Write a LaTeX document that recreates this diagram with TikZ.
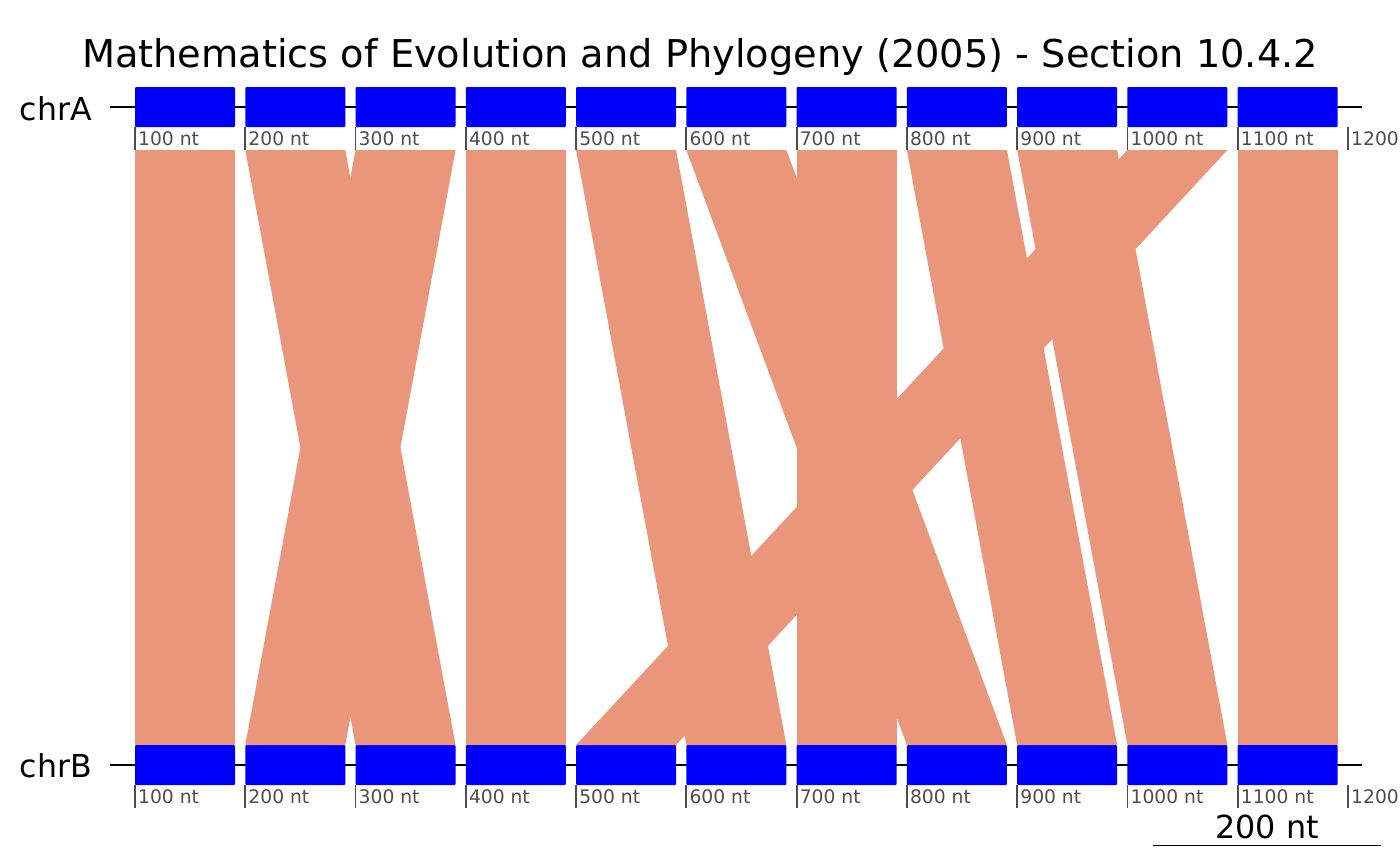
\documentclass[tikz,border=0pt]{standalone}
\usepackage{fontspec}
\setmainfont{DejaVu Sans}
\usetikzlibrary{calc}
\definecolor{ribboncol}{HTML}{E9967A}
\definecolor{tickgray}{HTML}{4D4D4D}
\begin{document}
\begin{tikzpicture}[x=1pt,y=-1pt,
  block/.style={fill=blue, draw=none, minimum width=100pt, minimum height=40pt, inner sep=0pt, outer sep=0pt, rounded corners=1pt},
  rib/.style={fill=ribboncol, draw=none},
  chrline/.style={draw=black, line width=1.6pt},
  tickline/.style={draw=tickgray, line width=1.8pt},
  ticklab/.style={text=tickgray, font=\fontsize{18.7}{18.7}\selectfont, anchor=base west, inner sep=0pt},
  chrlab/.style={font=\fontsize{31.6}{31.6}\selectfont, anchor=base east, inner sep=0pt},
  titlestyle/.style={font=\fontsize{38.3}{38.3}\selectfont, anchor=base, inner sep=0pt},
  scalelab/.style={font=\fontsize{31.8}{31.8}\selectfont, anchor=base, inner sep=0pt}]
\useasboundingbox (0,0) rectangle (1400,865);
% title
\node[titlestyle] (title) at (700,67) {Mathematics of Evolution and Phylogeny (2005) - Section 10.4.2};
% chromosome lines
\coordinate (aL) at (110,107); \coordinate (aR) at (1362,107);
\coordinate (bL) at (110,765); \coordinate (bR) at (1362,765);
\draw[chrline] (aL) -- (aR);
\draw[chrline] (bL) -- (bR);
% labels
\node[chrlab] (labA) at (92,120) {chrA};
\node[chrlab] (labB) at (92,777) {chrB};
% blocks
\foreach \i in {1,...,11} {
  \pgfmathsetmacro\xx{135+(\i-1)*110.27+50}
  \node[block] (a\i) at (\xx,107) {};
  \node[block] (b\i) at (\xx,765) {};
}
% ticks
\foreach \k [count=\j from 0] in {100,200,300,400,500,600,700,800,900,1000,1100} {
  \pgfmathsetmacro\tx{135+\j*110.27}
  \coordinate (ta\j) at (\tx,127); \coordinate (tb\j) at (\tx,150);
  \draw[tickline] (ta\j) -- (tb\j);
  \node[ticklab] (tla\j) at (\tx+3,145) {\k\ nt};
  \coordinate (tc\j) at (\tx,785); \coordinate (td\j) at (\tx,808);
  \draw[tickline] (tc\j) -- (td\j);
  \node[ticklab] (tlb\j) at (\tx+3,803) {\k\ nt};
}
\coordinate (ta11) at (1348,127); \coordinate (tb11) at (1348,150);
\draw[tickline] (ta11) -- (tb11);
\node[ticklab] (tla11) at (1351,145) {1200};
\coordinate (tc11) at (1348,785); \coordinate (td11) at (1348,808);
\draw[tickline] (tc11) -- (td11);
\node[ticklab] (tlb11) at (1351,803) {1200};
% ribbons
\coordinate (rt) at (0,150);
\newcommand\ribbon[2]{%
  \fill[rib] (a#1.south west |- rt) -- (a#1.south east |- rt) -- (b#2.north east) -- (b#2.north west) -- cycle;}
\ribbon{1}{1}
\ribbon{2}{3}
\ribbon{3}{2}
\ribbon{4}{4}
\ribbon{5}{6}
\ribbon{6}{8}
\ribbon{7}{7}
\ribbon{8}{9}
\ribbon{9}{10}
\ribbon{10}{5}
\ribbon{11}{11}
% scale bar
\coordinate (sL) at (1153,845.5); \coordinate (sR) at (1381,845.5);
\draw[chrline] (sL) -- (sR);
\node[scalelab] (scl) at (1267,838) {200 nt};
\end{tikzpicture}
\end{document}
